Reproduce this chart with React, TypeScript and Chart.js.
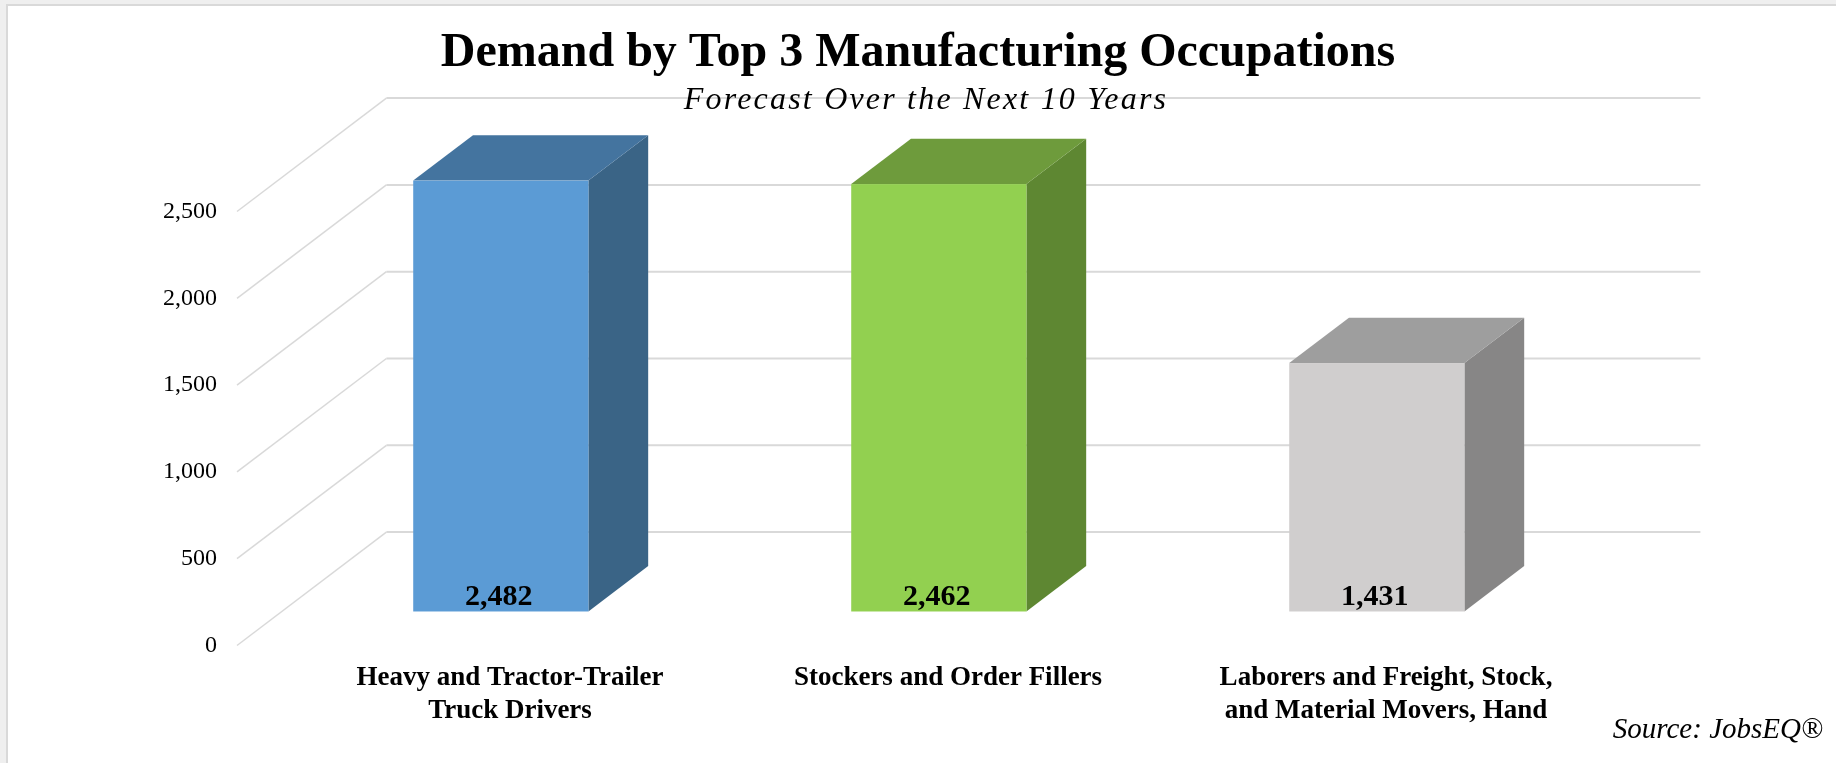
import React, { useEffect, useRef } from "react";
import { Chart, registerables } from "chart.js";

Chart.register(...registerables);

// ---- data ----
const CATEGORIES: string[][] = [
  ["Heavy and Tractor-Trailer", "Truck Drivers"],
  ["Stockers and Order Fillers"],
  ["Laborers and Freight, Stock,", "and Material Movers, Hand"],
];
const DEMAND: number[] = [2482, 2462, 1431];
const Y_MIN = 0;
const Y_MAX = 2500;
const Y_STEP = 500;
const TITLE = "Demand by Top 3 Manufacturing Occupations";
const SUBTITLE = "Forecast Over the Next 10 Years";
const SOURCE = "Source: JobsEQ\u00AE";

// ---- styles ----
const FACE_COLORS = [
  { front: "#5B9BD5", top: "#44749F", side: "#3A6486" },
  { front: "#92D050", top: "#6E9B3C", side: "#5E8732" },
  { front: "#D0CECE", top: "#9E9E9E", side: "#878686" },
];
const SERIF = "'Liberation Serif', 'Times New Roman', Times, serif";
const GRID_COLOR = "#D9D9D9";
const DEPTH_X = 149.4; // oblique depth of the floor (front plane -> back wall)
const DEPTH_Y = -113.4;
const BAR_FRONT = 0.3; // bar front face position along the depth
const BAR_DEPTH = 0.4; // bar thickness along the depth

const box3dPlugin = {
  id: "box3d",
  beforeDraw(chart: any) {
    const { ctx, width, height } = chart;
    ctx.save();
    ctx.fillStyle = "#FFFFFF";
    ctx.fillRect(0, 0, width, height);
    ctx.fillStyle = "#EFEFEF";
    ctx.fillRect(0, 0, width, 4);
    ctx.fillRect(0, 0, 6, height);
    ctx.strokeStyle = GRID_COLOR;
    ctx.lineWidth = 2;
    ctx.beginPath();
    ctx.moveTo(7, height);
    ctx.lineTo(7, 5);
    ctx.lineTo(width, 5);
    ctx.stroke();
    ctx.restore();
  },
  beforeDatasetsDraw(chart: any) {
    const { ctx, chartArea, scales } = chart;
    const y = scales.y;
    ctx.save();
    ctx.strokeStyle = GRID_COLOR;
    y.ticks.forEach((t: any) => {
      const py = y.getPixelForValue(t.value);
      ctx.lineWidth = 1.5;
      ctx.beginPath();
      ctx.moveTo(chartArea.left, py);
      ctx.lineTo(chartArea.left + DEPTH_X, py + DEPTH_Y);
      ctx.stroke();
      ctx.lineWidth = 2;
      ctx.beginPath();
      ctx.moveTo(chartArea.left + DEPTH_X, py + DEPTH_Y);
      ctx.lineTo(chartArea.right + DEPTH_X, py + DEPTH_Y);
      ctx.stroke();
    });
    ctx.restore();
  },
  afterDatasetsDraw(chart: any) {
    const { ctx } = chart;
    const meta = chart.getDatasetMeta(0);
    const ox = DEPTH_X * BAR_FRONT;
    const oy = DEPTH_Y * BAR_FRONT;
    const bx = DEPTH_X * BAR_DEPTH;
    const by = DEPTH_Y * BAR_DEPTH;
    ctx.save();
    meta.data.forEach((el: any, i: number) => {
      const { x, y, base, width } = el.getProps(["x", "y", "base", "width"], true);
      const c = FACE_COLORS[i % FACE_COLORS.length];
      const x0 = x - width / 2 + ox;
      const x1 = x + width / 2 + ox;
      const yt = y + oy;
      const yb = base + oy;
      // side face
      ctx.fillStyle = c.side;
      ctx.beginPath();
      ctx.moveTo(x1, yt);
      ctx.lineTo(x1 + bx, yt + by);
      ctx.lineTo(x1 + bx, yb + by);
      ctx.lineTo(x1, yb);
      ctx.closePath();
      ctx.fill();
      // top face
      ctx.fillStyle = c.top;
      ctx.beginPath();
      ctx.moveTo(x0, yt);
      ctx.lineTo(x1, yt);
      ctx.lineTo(x1 + bx, yt + by);
      ctx.lineTo(x0 + bx, yt + by);
      ctx.closePath();
      ctx.fill();
      // front face
      ctx.fillStyle = c.front;
      ctx.fillRect(x0, yt, x1 - x0, yb - yt);
      // value label at the base
      ctx.fillStyle = "#000000";
      ctx.font = `bold 30px ${SERIF}`;
      ctx.textAlign = "center";
      ctx.textBaseline = "alphabetic";
      ctx.fillText(DEMAND[i].toLocaleString("en-US"), (x0 + x1) / 2 - 2, yb - 6.5);
    });
    ctx.restore();
  },
  afterDraw(chart: any) {
    const { ctx, chartArea, width, height } = chart;
    ctx.save();
    ctx.fillStyle = "#000000";
    ctx.textBaseline = "alphabetic";
    // subtitle
    ctx.font = `italic 32px ${SERIF}`;
    ctx.textAlign = "center";
    (ctx as any).letterSpacing = "2.2px";
    ctx.fillText(SUBTITLE, width / 2 + 8, chartArea.top - 102.2);
    (ctx as any).letterSpacing = "0px";
    // source
    ctx.font = `italic 29px ${SERIF}`;
    ctx.textAlign = "right";
    ctx.fillText(SOURCE, width - 13, height - 24.7);
    ctx.restore();
  },
};

export default function App() {
  const ref = useRef<HTMLCanvasElement>(null);
  useEffect(() => {
    if (!ref.current) return;
    const chart = new Chart(ref.current, {
      type: "bar",
      data: {
        labels: CATEGORIES,
        datasets: [
          {
            data: DEMAND,
            backgroundColor: "rgba(0,0,0,0)",
            borderWidth: 0,
            barPercentage: 0.4,
            categoryPercentage: 1.0,
          },
        ],
      },
      options: {
        responsive: false,
        animation: false,
        locale: "en-US",
        devicePixelRatio: 1,
        layout: { padding: 0 },
        plugins: {
          legend: { display: false },
          tooltip: { enabled: false },
          title: {
            display: true,
            text: TITLE,
            color: "#000000",
            font: { family: SERIF, size: 48, weight: "bold", lineHeight: 1 },
            padding: { top: 30, bottom: 133.5 },
          },
        },
        scales: {
          x: {
            grid: { display: false, drawTicks: false },
            border: { display: false },
            ticks: {
              color: "#000000",
              font: { family: SERIF, size: 27, weight: "bold", lineHeight: 1.23 },
              padding: 15.5,
              labelOffset: 54,
              maxRotation: 0,
              minRotation: 0,
              autoSkip: false,
            },
            afterFit: (s: any) => {
              s.height = 117.5;
            },
          },
          y: {
            min: Y_MIN,
            max: Y_MAX,
            grid: { display: false, drawTicks: false },
            border: { display: false },
            ticks: {
              stepSize: Y_STEP,
              color: "#000000",
              font: { family: SERIF, size: 24 },
              padding: 20,
            },
            afterFit: (s: any) => {
              s.width = 237;
            },
          },
          yRight: {
            position: "right",
            display: true,
            grid: { display: false, drawTicks: false },
            border: { display: false },
            ticks: { display: false },
            afterFit: (s: any) => {
              s.width = 285;
            },
          },
        },
      },
      plugins: [box3dPlugin],
    } as any);
    return () => chart.destroy();
  }, []);
  return (
    <div style={{ position: "absolute", left: 0, top: 0, width: 1836, height: 763 }}>
      <canvas ref={ref} width={1836} height={763} style={{ display: "block", width: 1836, height: 763 }} />
    </div>
  );
}
